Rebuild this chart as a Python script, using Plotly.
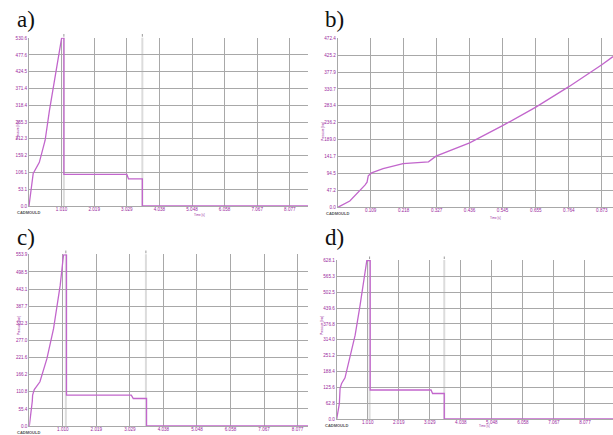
import plotly.graph_objects as go

# ---------------- data ----------------
a_time = [0, 0.05, 0.10, 0.13, 0.32, 0.39, 0.50, 0.63, 0.80, 1.01, 1.08, 1.08, 3.03, 3.08, 3.51, 3.51, 8.64]
a_pres = [0, 45, 85, 103, 138, 163, 208, 300, 405, 530.6, 530.6, 100, 100, 86, 86, 0, 0]

b_time = [0, 0.04, 0.09, 0.097, 0.101, 0.112, 0.15, 0.216, 0.30, 0.325, 0.436, 0.545, 0.655, 0.764, 0.873, 0.91]
b_pres = [0, 17.6, 62, 70, 88, 96, 108, 122, 127, 143, 180, 228, 280, 337, 398, 421]

c_time = [0, 0.05, 0.09, 0.10, 0.15, 0.32, 0.53, 0.73, 0.93, 1.03, 1.12, 1.12, 3.07, 3.13, 3.53, 3.53, 8.39]
c_pres = [0, 40, 80, 100, 118, 143, 218, 315, 455, 553.9, 553.9, 100, 100, 89, 89, 0, 0]

d_time = [0, 0.05, 0.087, 0.11, 0.16, 0.27, 0.43, 0.60, 0.76, 0.98, 1.09, 1.09, 3.07, 3.12, 3.50, 3.50, 8.99]
d_pres = [0, 30, 62, 121, 141, 163, 240, 332, 450, 628.1, 628.1, 115, 115, 101, 101, 0, 0]

x_ticks_long = ["1.010", "2.019", "3.029", "4.038", "5.048", "6.058", "7.067", "8.077"]
x_ticks_b = ["0.109", "0.218", "0.327", "0.436", "0.545", "0.655", "0.764", "0.873"]
a_yticks = ["0.0", "53.1", "106.1", "159.2", "212.3", "265.3", "318.4", "371.4", "424.5", "477.6", "530.6"]
b_yticks = ["0.0", "47.2", "94.5", "141.7", "189.0", "236.2", "283.4", "330.7", "377.9", "425.2", "472.4"]
c_yticks = ["0.0", "55.4", "110.8", "166.2", "221.6", "277.0", "332.3", "387.7", "443.1", "498.5", "553.9"]
d_yticks = ["0.0", "62.8", "125.6", "188.4", "251.2", "314.0", "376.8", "439.6", "502.5", "565.3", "628.1"]

a_markers = [1.08, 3.51]
c_markers = [1.10, 3.51]
d_markers = [1.07, 3.50]

panel_labels = ["a)", "b)", "c)", "d)"]

# ---------------- styling ----------------
W, H = 613, 435
LINE = "#c266cc"
TICKC = "#9a2a9e"
GRID = "#a8a8a8"

def px_x(p):
    return p / W

def px_y(p):
    return 1 - p / H

panels = [
    dict(t=a_time, p=a_pres, xt=x_ticks_long, yt=a_yticks, xr=8.64,
         dx=[29, 308], dy=[206, 37.7], markers=a_markers, tpos=(192, 214.5)),
    dict(t=b_time, p=b_pres, xt=x_ticks_b, yt=b_yticks, xr=0.910,
         dx=[337.7, 613], dy=[207.3, 37.7], markers=[], tpos=(503, 217.5)),
    dict(t=c_time, p=c_pres, xt=x_ticks_long, yt=c_yticks, xr=8.39,
         dx=[29.3, 308], dy=[426, 254.3], markers=c_markers, tpos=None),
    dict(t=d_time, p=d_pres, xt=x_ticks_long, yt=d_yticks, xr=8.99,
         dx=[336.7, 613], dy=[419, 260], markers=d_markers, tpos=(492, 430)),
]

fig = go.Figure()
shapes = []
annotations = []

for i, pn in enumerate(panels):
    k = "" if i == 0 else str(i + 1)
    xa, ya = "x" + k, "y" + k
    xvals = [float(s) for s in pn["xt"]]
    yvals = [float(s) for s in pn["yt"]]
    ymax = yvals[-1]
    fig.add_trace(go.Scatter(x=pn["t"], y=pn["p"], mode="lines",
                             line=dict(color=LINE, width=1.3),
                             xaxis=xa, yaxis=ya, showlegend=False, hoverinfo="skip"))
    axis_font = dict(family="Liberation Sans, Arial, sans-serif", size=4.6, color=TICKC)
    fig.layout["xaxis" + k] = dict(
        domain=[px_x(pn["dx"][0]), px_x(pn["dx"][1])], anchor=ya,
        range=[0, pn["xr"]], tickvals=xvals, ticktext=pn["xt"],
        showgrid=True, gridcolor=GRID, gridwidth=1, zeroline=False,
        showline=True, linecolor=GRID, linewidth=1, ticks="",
        tickfont=axis_font, fixedrange=True, automargin=False,
        ticklabelstandoff=-2)
    fig.layout["yaxis" + k] = dict(
        domain=[px_y(pn["dy"][0]), px_y(pn["dy"][1])], anchor=xa,
        range=[0, ymax * 1.003], tickvals=yvals, ticktext=pn["yt"],
        showgrid=True, gridcolor=GRID, gridwidth=1, zeroline=False,
        showline=True, linecolor=GRID, linewidth=1, ticks="",
        tickfont=axis_font, fixedrange=True, automargin=False)
    for m in pn["markers"]:
        shapes.append(dict(type="line", xref=xa, yref=ya + " domain", x0=m, x1=m,
                           y0=0, y1=1, line=dict(color="#dcdcdc", width=2), layer="below"))
        shapes.append(dict(type="line", xref=xa, yref=ya + " domain", x0=m, x1=m,
                           y0=1.006, y1=1.022, line=dict(color="#999999", width=1)))
    # panel label
    lx = 15 if i in (0, 2) else 323
    ly = 20 if i < 2 else 237
    annotations.append(dict(text=panel_labels[i], xref="paper", yref="paper",
                            x=px_x(lx), y=px_y(ly), xanchor="left", yanchor="middle",
                            showarrow=False,
                            font=dict(family="Liberation Serif, Times New Roman, serif",
                                      size=23, color="#111111")))
    # tiny axis titles
    tx = pn["dx"][0] - 15
    ty = (pn["dy"][0] + pn["dy"][1]) / 2 - 3
    annotations.append(dict(text="Pressure [bar]", xref="paper", yref="paper",
                            x=px_x(tx), y=px_y(ty), textangle=-90, showarrow=False,
                            font=dict(family="Liberation Sans", size=3, color=TICKC)))
    if pn["tpos"] is not None:
        annotations.append(dict(text="Time [s]", xref="paper", yref="paper",
                                x=px_x(pn["tpos"][0]), y=px_y(pn["tpos"][1]), showarrow=False,
                                font=dict(family="Liberation Sans", size=3, color=TICKC)))
    # CADMOULD logo text
    annotations.append(dict(text="<b>CADMOULD</b>", xref="paper", yref="paper",
                            x=px_x(pn["dx"][0] - 14), y=px_y(pn["dy"][0] + 6.5),
                            xanchor="left", yanchor="middle", showarrow=False,
                            font=dict(family="Liberation Sans", size=4, color="#555555")))

fig.update_layout(width=W, height=H, margin=dict(l=0, r=0, t=0, b=0),
                  paper_bgcolor="white", plot_bgcolor="white",
                  shapes=shapes, annotations=annotations, showlegend=False)

fig.write_html("out.html", config={"displayModeBar": False},
               post_script="document.body.style.margin='0';document.body.style.overflow='hidden';")
